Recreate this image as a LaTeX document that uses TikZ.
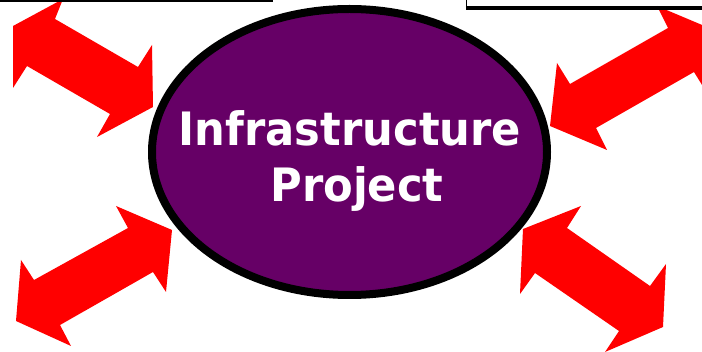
\documentclass[tikz,border=0pt]{standalone}
\usepackage{fontspec}
\setmainfont{DejaVu Sans}
\newfontfamily\projfont[FakeStretch=0.94]{DejaVu Sans}
\definecolor{projpurple}{HTML}{660066}
\definecolor{arrowred}{HTML}{FF0000}
\tikzset{
  bigarrow/.style={fill=arrowred, draw=none},
  projtext/.style={text=white, font=\projfont\fontsize{46}{56}\selectfont\bfseries, align=center}
}

\begin{document}
\begin{tikzpicture}[x=1pt, y=-1pt]
\useasboundingbox (0,0) rectangle (702,352);

% the four double arrows
\fill[bigarrow] (13,26) -- (63,-1) -- (55,19) -- (138,67) -- (152,45) -- (153,107)
  -- (97,137) -- (110,114) -- (27,66) -- (13,88) -- cycle;
\fill[bigarrow] (550,126) -- (557,63) -- (570,84) -- (668,28) -- (657,6) -- (714,30)
  -- (707,93) -- (694,72) -- (596,128) -- (607,150) -- cycle;
\fill[bigarrow] (172,230) -- (166,292) -- (153,272) -- (60,325) -- (71,346) -- (16,321)
  -- (21,260) -- (34,280) -- (128,228) -- (116,206) -- cycle;
\fill[bigarrow] (523,229) -- (581,206) -- (567,228) -- (650,286) -- (666,264) -- (663,327)
  -- (605,352) -- (619,331) -- (535,273) -- (520,294) -- cycle;

% the project
\draw[line width=8pt, fill=projpurple] (349.5,152) ellipse (197.5 and 143);
\node[projtext] (proj) at (350,161) {Infrastructure\\\hspace*{14pt}Project};

% edges of the boxes above
\draw[line width=2.5pt] (0,0.5) -- (273,0.5);
\draw[line width=1.5pt] (466.5,-2) -- (466.5,8.5);
\draw[line width=3.5pt] (465.75,8.2) -- (702,8.2);
\end{tikzpicture}
\end{document}
